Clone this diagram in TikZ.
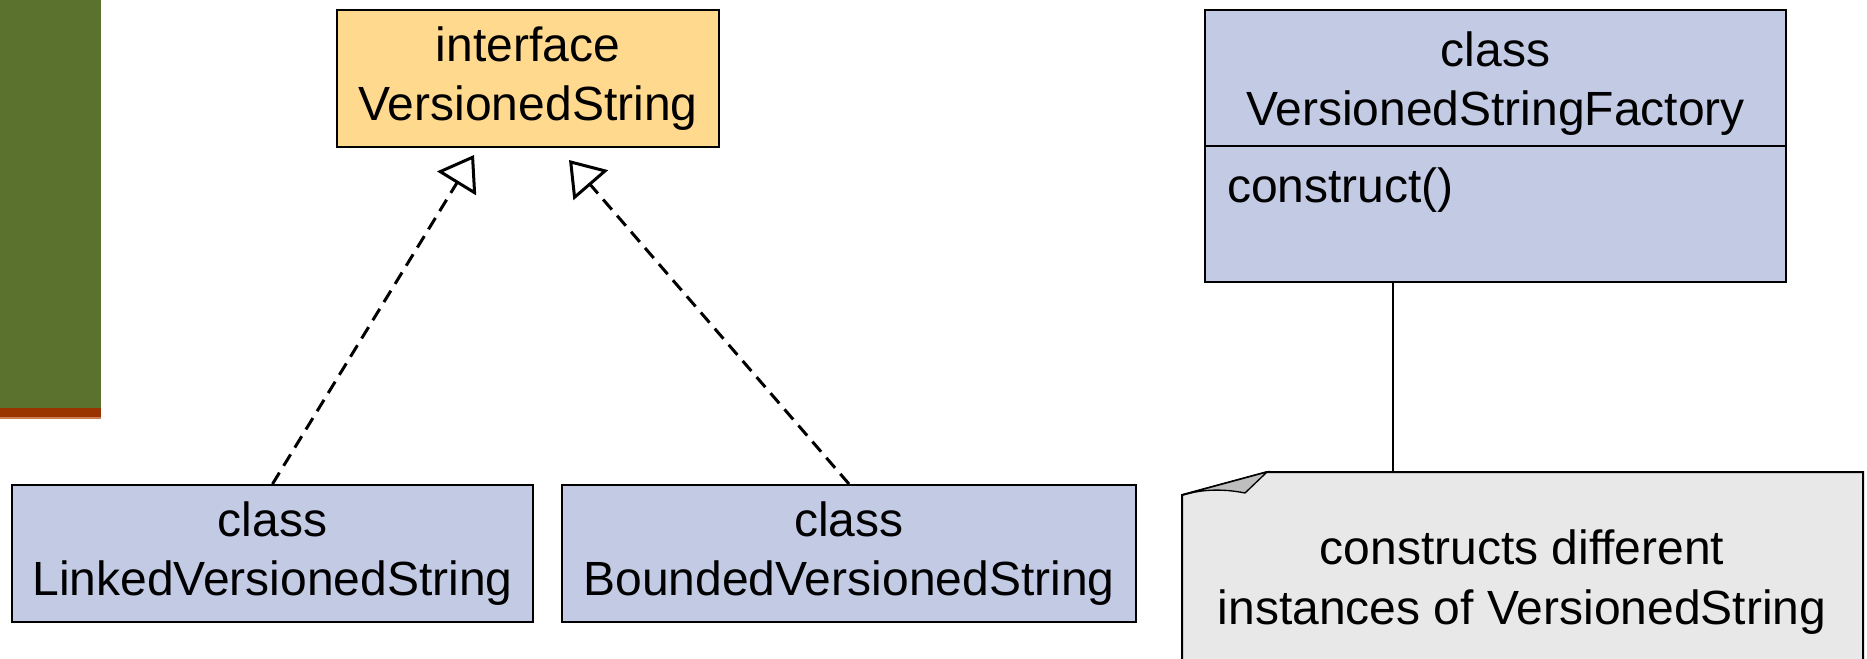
\documentclass[tikz,border=0pt]{standalone}
\usepackage{fontspec}
\setmainfont{Liberation Sans}
\usetikzlibrary{arrows.meta}

\definecolor{ifacefill}{RGB}{255,217,142}
\definecolor{classfill}{RGB}{195,202,228}
\definecolor{notefill}{RGB}{232,232,232}
\definecolor{foldfill}{RGB}{190,190,190}
\definecolor{bargreen}{RGB}{91,114,46}
\definecolor{barrust}{RGB}{153,51,0}
\definecolor{barlight}{RGB}{205,125,80}

\tikzset{every picture/.style={line width=1.5pt},
  umltext/.style={font=\fontsize{36}{44.5}\selectfont, align=center},
  umlbox/.style={draw, umltext, inner sep=0pt},
  realizes/.style={line width=2.25pt, dash pattern={on 10pt off 6pt},
    -{Triangle[open, length=25pt, width=34pt, line width=2.25pt]}}}

\begin{document}
\begin{tikzpicture}[x=0.75pt,y=0.75pt,yscale=-1,xscale=1]
\useasboundingbox (0,0) rectangle (1867,659);

%Shape: side bar
\fill [bargreen] (0,0) rectangle (101,408);
\fill [barrust] (0,408) rectangle (101,417);
\fill [barlight] (0,417) rectangle (101,419);

%Shape: Rectangle (interface)
\node [umlbox, fill=ifacefill, minimum width=286.5pt, minimum height=102.75pt] (iface) at (528,78.5) {interface\\VersionedString};

%Shape: Rectangle (implementations)
\node [umlbox, fill=classfill, minimum width=390.75pt, minimum height=102.75pt] (linked) at (272.5,553.5) {class\\LinkedVersionedString};
\node [umlbox, fill=classfill, minimum width=430.5pt, minimum height=102.75pt] (bounded) at (849,553.5) {class\\BoundedVersionedString};

%Shape: Rectangle (factory, two compartments)
\node [draw, fill=classfill, minimum width=435.75pt, minimum height=204pt] (factory) at (1495.5,146) {};
\draw (factory.west) -- (factory.east);
% Text Node
\node [umltext, anchor=base] (facttitle) at (1495.5,126) {class\\VersionedStringFactory};
% Text Node
\node [umltext, anchor=base west, inner sep=0pt] (factop) at (1226,203) {construct()};

%Shape: Note with folded corner
\draw [fill=notefill] (1182,700) -- (1182,495) -- (1267,472) -- (1863,472) -- (1863,700) ;
\draw [fill=foldfill, line width=1pt] (1182,495) -- (1267,472) -- (1245,493) .. controls (1220,488) and (1200,490) .. (1182,495) -- cycle ;
% Text Node
\node [umltext, anchor=base] (notetext) at (1522,624) {constructs different\\instances of VersionedString};
\coordinate (notetop) at (1393,472);

%Straight Lines: realization arrows
\coordinate (lktip) at (474,155);
\coordinate (bdtip) at (569,160);
\draw [realizes] (linked.north) -- (lktip);
\draw [realizes] (bounded.north) -- (bdtip);
%Straight Lines: note anchor
\draw (factory.south -| notetop) -- (notetop);

\end{tikzpicture}
\end{document}
